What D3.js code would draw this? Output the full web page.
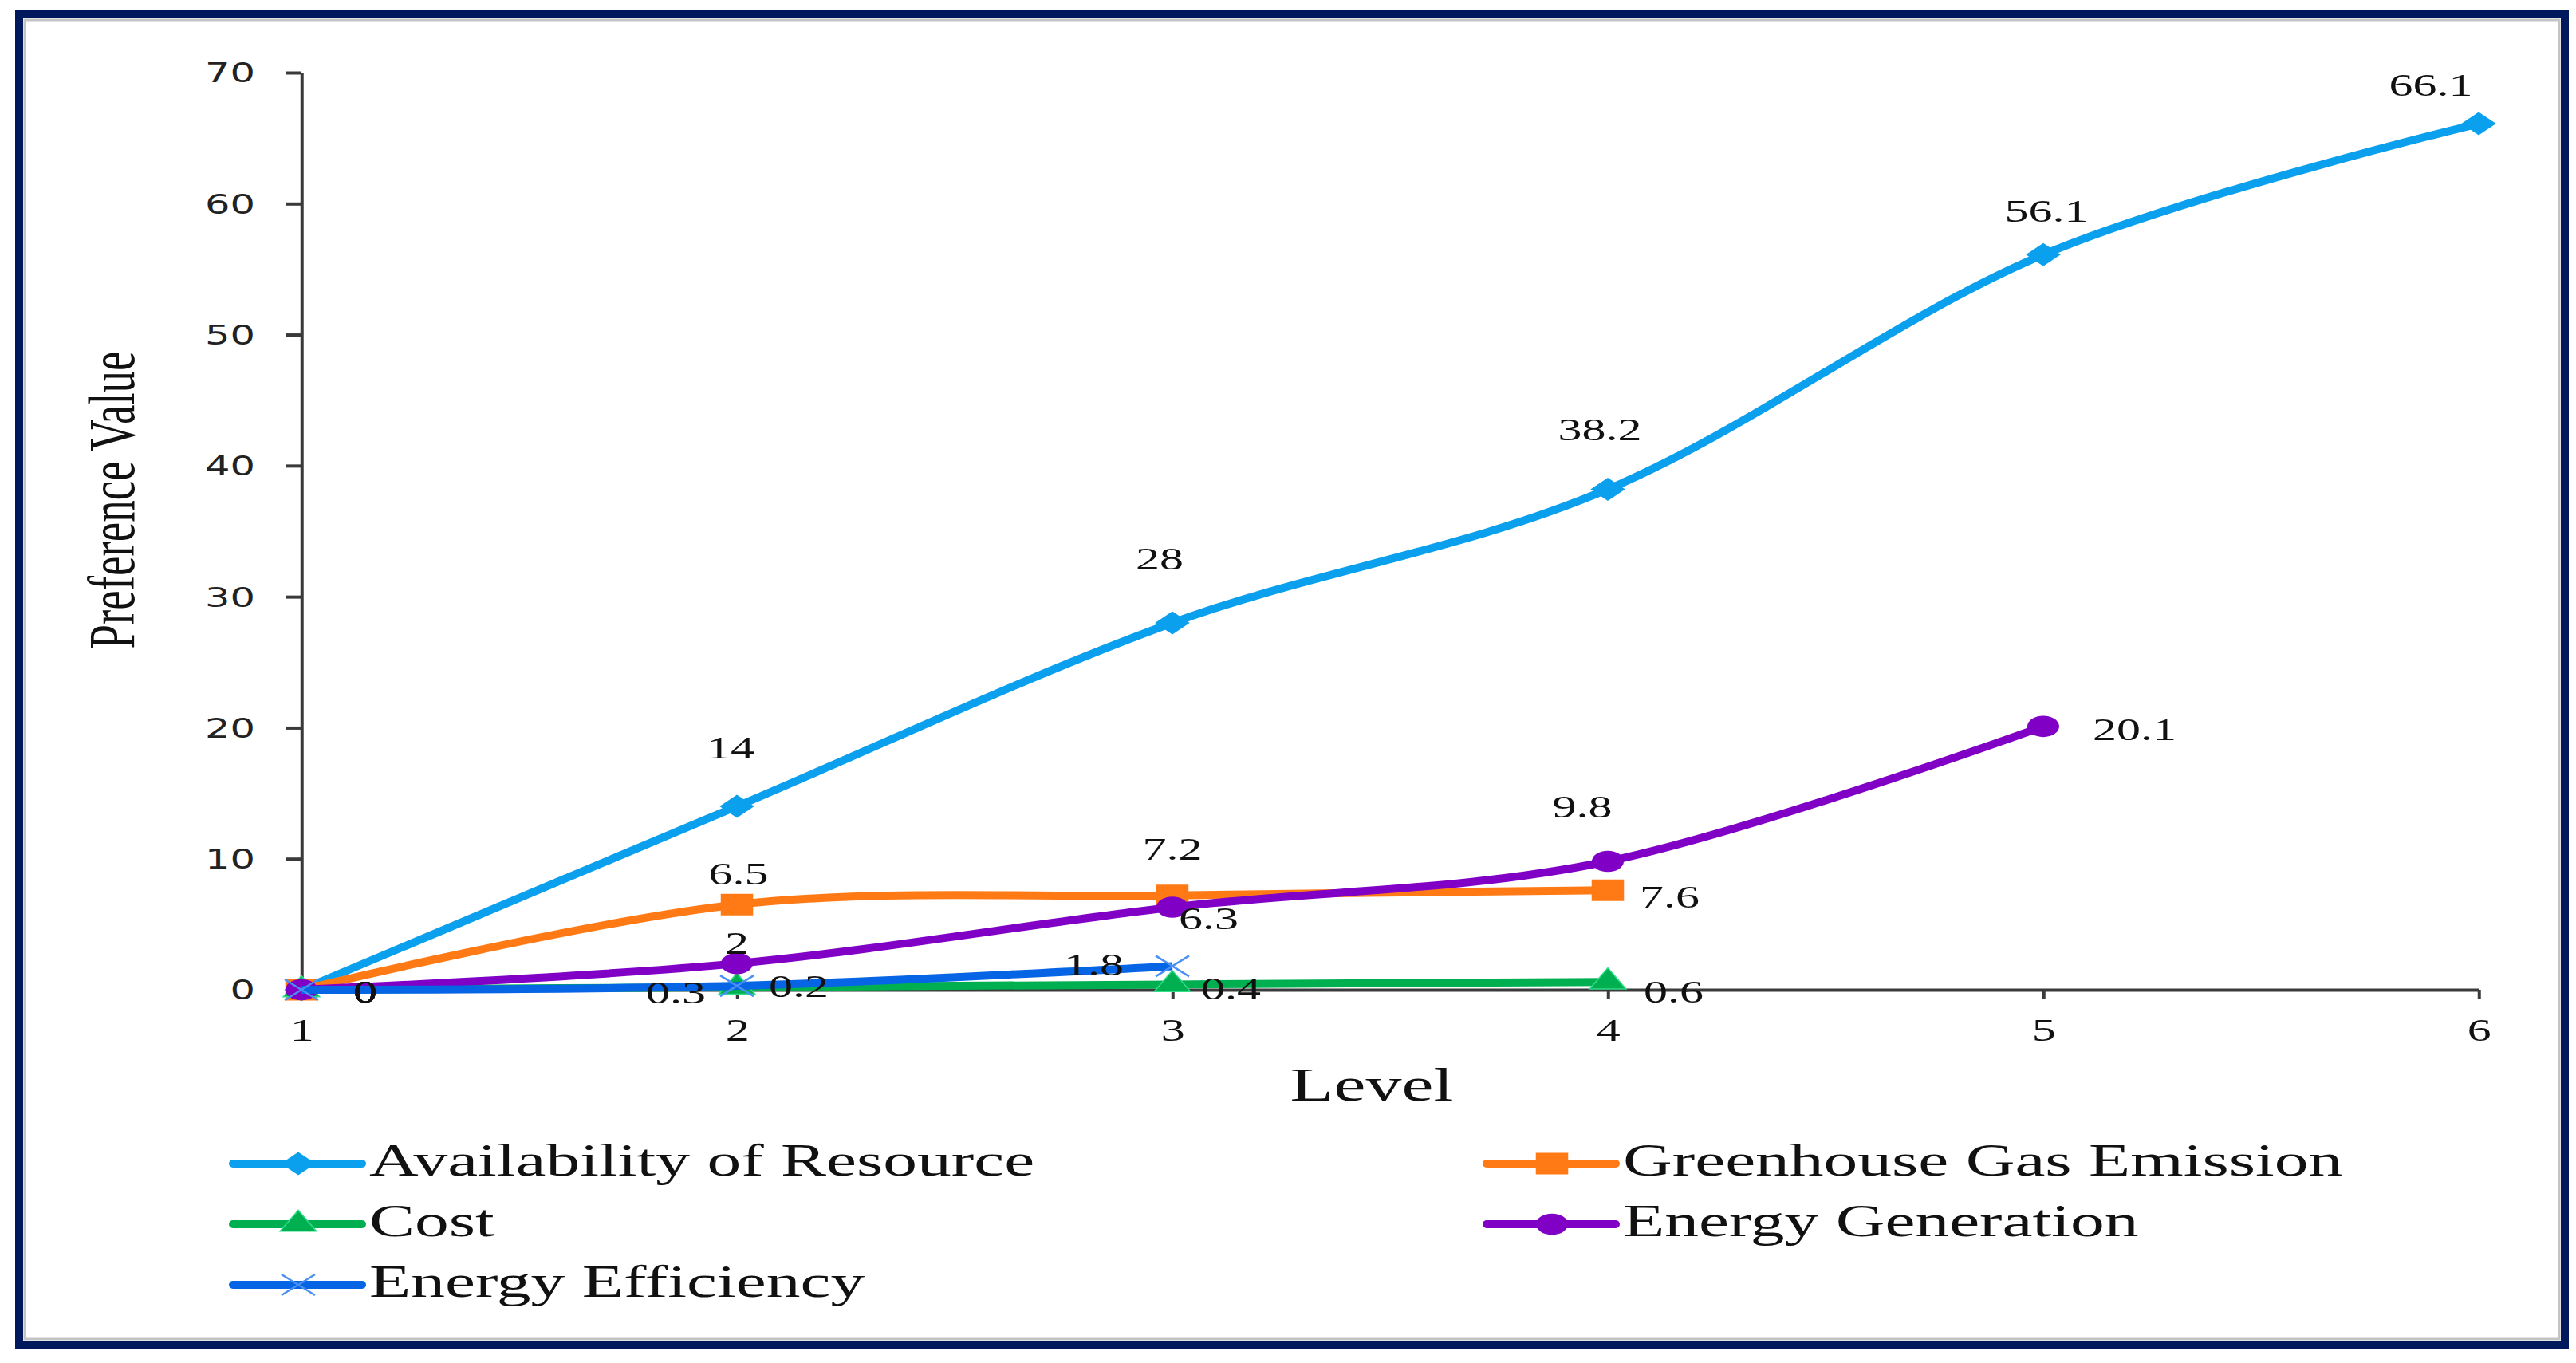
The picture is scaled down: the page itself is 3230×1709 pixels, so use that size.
<!DOCTYPE html>
<html>
<head>
<meta charset="utf-8">
<script src="https://cdn.jsdelivr.net/npm/d3@7"></script>
<style>
  body { margin: 0; background: #fff; }
  svg { display: block; }
  .serif { font-family: "Liberation Serif", "Times New Roman", serif; fill: #111; }
  .axis path, .axis line { stroke: #3a3a3a; stroke-width: 4; vector-effect: non-scaling-stroke; }
</style>
</head>
<body>
<script>
// data
const levels = [1, 2, 3, 4, 5, 6];
const yTicks = [0, 10, 20, 30, 40, 50, 60, 70];
const seriesNames = ["Availability of Resource", "Greenhouse Gas Emission", "Cost", "Energy Generation", "Energy Efficiency"];
const availability = [0, 14, 28, 38.2, 56.1, 66.1];
const greenhouse = [0, 6.5, 7.2, 7.6];
const cost = [0, 0.2, 0.4, 0.6];
const generation = [0, 2, 6.3, 9.8, 20.1];
const efficiency = [0, 0.3, 1.8];

const w = 3230;
const h = 1709;
// the source picture is stretched sideways, so the chart is drawn narrow and widened
const S = 1.5;
const px = (v) => v / S;

const series = [
  { name: seriesNames[0], values: availability, color: "#0ba0ee", marker: "diamond" },
  { name: seriesNames[1], values: greenhouse, color: "#ff7a14", marker: "square" },
  { name: seriesNames[2], values: cost, color: "#00b050", marker: "triangle" },
  { name: seriesNames[3], values: generation, color: "#8000c6", marker: "circle" },
  { name: seriesNames[4], values: efficiency, color: "#0565e4", marker: "x" }
];

// label placement per point: [anchor, dx, dy] in page pixels
const labelPlace = [
  [["start", 65, 16], ["middle", -8, -60], ["middle", -16, -67], ["middle", -10, -61], ["middle", 4, -41], ["middle", -60, -35]],
  [["start", 65, 16], ["middle", 2, -25], ["middle", 0, -45], ["start", 40, 22]],
  [["start", 65, 16], ["start", 40, 12], ["start", 36, 19], ["start", 45, 26]],
  [["start", 65, 16], ["middle", 0, -12], ["start", 8, 28], ["middle", -32, -55], ["start", 62, 17]],
  [["start", 65, 16], ["end", -39, 22], ["end", -61, 12]]
];

const legendPos = [
  { x: 292, y: 1459 }, { x: 1864, y: 1459 },
  { x: 292, y: 1535 }, { x: 1864, y: 1535 },
  { x: 292, y: 1611 }
];

const svg = d3.select("body")
  .append("svg")
  .attr("width", w)
  .attr("height", h);

// frame
svg.append("rect")
  .attr("x", 24).attr("y", 18)
  .attr("width", 3192).attr("height", 1668)
  .attr("fill", "#fff")
  .attr("stroke", "#00195c")
  .attr("stroke-width", 10);
svg.append("rect")
  .attr("x", 31).attr("y", 25)
  .attr("width", 3178).attr("height", 1654)
  .attr("fill", "none")
  .attr("stroke", "#c4c4c4")
  .attr("stroke-width", 3);

const g = svg.append("g").attr("transform", `scale(${S},1)`);

const xScale = d3.scaleLinear().domain([1, 6]).range([px(378), px(3108)]);
const yScale = d3.scaleLinear().domain([0, 70]).range([1241, 91]);

// axes
const yAxis = d3.axisLeft(yScale).tickValues(yTicks).tickSize(px(20)).tickSizeOuter(0).tickFormat(d3.format("d"));
const yG = g.append("g")
  .attr("class", "axis")
  .attr("transform", `translate(${xScale(1)},0)`)
  .call(yAxis);
yG.selectAll("text")
  .attr("x", -px(58))
  .attr("dy", "0.36em")
  .attr("fill", "#222")
  .style("font-family", "'DejaVu Sans', Verdana, sans-serif")
  .style("font-size", "33px");

const xAxis = d3.axisBottom(xScale).tickValues(levels).tickSize(12).tickSizeOuter(0).tickFormat(d3.format("d"));
const xG = g.append("g")
  .attr("class", "axis")
  .attr("transform", `translate(0,${yScale(0)})`)
  .call(xAxis);
xG.selectAll("text")
  .attr("y", 64)
  .attr("dy", 0)
  .attr("class", "serif")
  .style("font-size", "40px");

// axis titles
g.append("text")
  .attr("class", "serif")
  .attr("transform", `translate(${px(168)},627) rotate(-90)`)
  .attr("text-anchor", "middle")
  .style("font-size", "55px")
  .text("Preference Value");

g.append("text")
  .attr("class", "serif")
  .attr("x", px(1720))
  .attr("y", 1380)
  .attr("text-anchor", "middle")
  .style("font-size", "60px")
  .text("Level");

// markers
function drawMarker(sel, type, color) {
  if (type === "x") {
    sel.append("path")
      .attr("d", "M-14,-13L14,13M-14,13L14,-13")
      .attr("fill", "none")
      .attr("stroke", "#4a90f2")
      .attr("stroke-width", 2.5)
      .attr("vector-effect", "non-scaling-stroke");
    return;
  }
  const shapes = {
    diamond: d3.symbol().type(d3.symbolSquare).size(420),
    square: d3.symbol().type(d3.symbolSquare).size(730),
    circle: d3.symbol().type(d3.symbolCircle).size(560),
    triangle: d3.symbol().type(d3.symbolTriangle).size(400)
  };
  const p = sel.append("path")
    .attr("d", shapes[type]())
    .attr("fill", color);
  if (type === "diamond") p.attr("transform", "rotate(45)");
  if (type === "triangle") {
    p.attr("stroke", "#2ee08a").attr("stroke-width", 1.5).attr("vector-effect", "non-scaling-stroke");
  }
}

const line = d3.line()
  .x((d, i) => xScale(levels[i]))
  .y((d) => yScale(d))
  .curve(d3.curveCardinal.tension(0));

series.forEach((s) => {
  const sg = g.append("g");
  sg.append("path")
    .attr("d", line(s.values))
    .attr("fill", "none")
    .attr("stroke", s.color)
    .attr("stroke-width", 10)
    .attr("stroke-linejoin", "round")
    .attr("vector-effect", "non-scaling-stroke");
  sg.selectAll("g.pt")
    .data(s.values)
    .enter()
    .append("g")
    .attr("class", "pt")
    .attr("transform", (d, i) => `translate(${xScale(levels[i])},${yScale(d)})`)
    .each(function() { drawMarker(d3.select(this), s.marker, s.color); });
});

// data labels
series.forEach((s, k) => {
  g.selectAll(null)
    .data(s.values)
    .enter()
    .append("text")
    .attr("class", "serif")
    .attr("x", (d, i) => xScale(levels[i]) + px(labelPlace[k][i][1]))
    .attr("y", (d, i) => yScale(d) + labelPlace[k][i][2])
    .attr("text-anchor", (d, i) => labelPlace[k][i][0])
    .style("font-size", "40px")
    .text((d) => d);
});

// legend
series.forEach((s, i) => {
  const p = legendPos[i];
  const lg = g.append("g");
  lg.append("line")
    .attr("x1", px(p.x)).attr("x2", px(p.x + 162))
    .attr("y1", p.y).attr("y2", p.y)
    .attr("stroke", s.color)
    .attr("stroke-width", 10)
    .attr("stroke-linecap", "round")
    .attr("vector-effect", "non-scaling-stroke");
  const m = lg.append("g").attr("transform", `translate(${px(p.x + 82)},${p.y})`);
  drawMarker(m, s.marker, s.color);
  lg.append("text")
    .attr("class", "serif")
    .attr("x", px(p.x + 171))
    .attr("y", p.y + 15)
    .style("font-size", "57px")
    .text(s.name);
});
</script>
</body>
</html>
